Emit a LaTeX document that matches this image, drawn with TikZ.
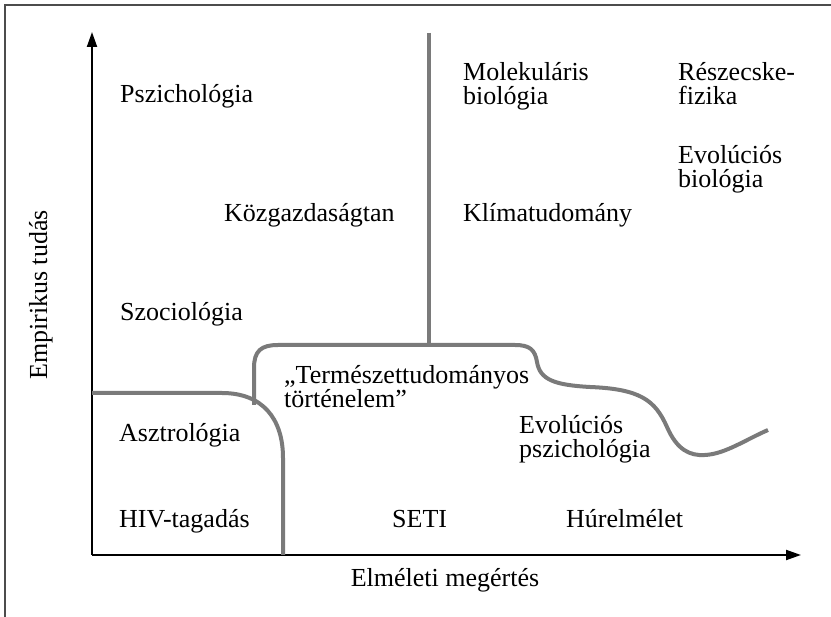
\documentclass[tikz,border=0pt]{standalone}
\usepackage{fontspec}
\setmainfont{Liberation Serif}
\usetikzlibrary{arrows.meta}
\newcommand{\twoline}[2]{\vtop{\hbox{#1}\hbox{#2}}}
\tikzset{
  lbl/.style={anchor=base west, inner sep=0pt, font=\fontsize{26}{24}\selectfont},
  axis/.style={line width=2pt, draw=black, -{Triangle[length=15pt,width=10pt]}},
  bound/.style={line width=4pt, draw=black!52},
  frame/.style={line width=1.2pt, draw=black!70}
}
\begin{document}
\begin{tikzpicture}[x=1pt,y=-1pt]
\useasboundingbox (0,0) rectangle (831,617);
\fill[white] (0,0) rectangle (831,617);
% frame
\coordinate (fbl) at (5,617);
\coordinate (ftl) at (5,5);
\coordinate (ftr) at (831,5);
\draw[frame] (fbl) -- (ftl) -- (ftr);
% axes
\coordinate (O) at (92,555);
\coordinate (ytop) at (92,32);
\coordinate (xend) at (801,555);
\draw[axis] (O) -- (ytop);
\draw[axis] (O) -- (xend);
% boundaries
\coordinate (a0) at (92,393);
\coordinate (a1) at (283,555);
\coordinate (b0) at (254,405);
\coordinate (v0) at (429,33);
\coordinate (v1) at (429,345);
\coordinate (c1) at (768,430);
\draw[bound] (a0) -- (222,393) .. controls (262,393) and (283,418) .. (283,458) -- (a1);
\draw[bound] (b0) -- (254,368) .. controls (254,351) and (261,345) .. (278,345)
  -- (515,345) .. controls (530,345) and (535,350) .. (537,362)
  .. controls (540,380) and (555,385) .. (590,387)
  .. controls (640,389) and (655,400) .. (667,427)
  .. controls (677,450) and (690,456) .. (705,455)
  .. controls (725,454) and (745,440) .. (c1);
\draw[bound, line cap=butt] (v0) -- (v1);
% labels
\node[lbl] (psz) at (120,103) {Pszichológia};
\node[lbl] (kozg) at (224,222) {Közgazdaságtan};
\node[lbl] (szoc) at (120,321) {Szociológia};
\node[lbl] (molb) at (463,81) {\twoline{Molekuláris}{biológia}};
\node[lbl] (resz) at (678,81) {\twoline{Részecske-}{fizika}};
\node[lbl] (evob) at (678,164) {\twoline{Evolúciós}{biológia}};
\node[lbl] (klim) at (463,222) {Klímatudomány};
\node[lbl] (term) at (284,384) {\twoline{„Természettudományos}{történelem”}};
\node[lbl] (evop) at (519,434) {\twoline{Evolúciós}{pszichológia}};
\node[lbl] (aszt) at (119,442) {Asztrológia};
\node[lbl] (hiv) at (119,528) {HIV-tagadás};
\node[lbl] (seti) at (392,528) {SETI};
\node[lbl] (hur) at (566,528) {Húrelmélet};
\node[lbl, anchor=base] (xlab) at (445,587) {Elméleti megértés};
\node[lbl, anchor=base, rotate=90] (ylab) at (47,295) {Empirikus tudás};
\end{tikzpicture}
\end{document}
